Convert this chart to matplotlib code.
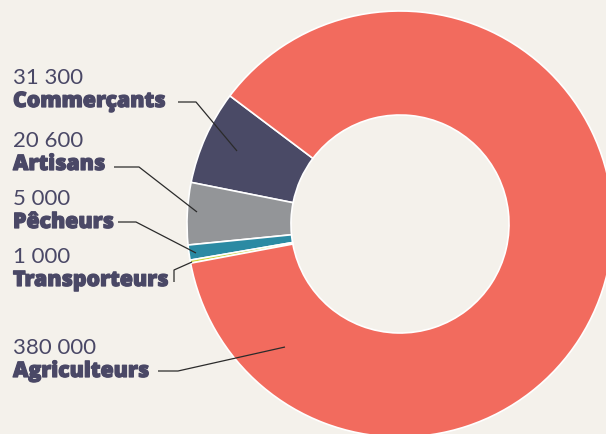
import matplotlib.pyplot as plt
import matplotlib.patheffects as pe

# Données
categories = ['Commerçants', 'Artisans', 'Pêcheurs', 'Transporteurs', 'Agriculteurs']
valeurs = [31300, 20600, 5000, 1000, 380000]
etiquettes_valeurs = ['31 300', '20 600', '5 000', '1 000', '380 000']
couleurs = ['#4a4a66', '#939598', '#2b8aa3', '#c8d43c', '#f26b5e']

fond = '#f4f1eb'
texte = '#4a4866'

fig = plt.figure(figsize=(6.06, 4.35), dpi=100, facecolor=fond)
ax = fig.add_axes([0, 0, 1, 1])
ax.set_facecolor(fond)

# Donut (coordonnées en pixels, y vers le haut)
ax.pie(valeurs, colors=couleurs, startangle=143, counterclock=True,
       center=(400, 210), radius=213,
       wedgeprops=dict(width=104, edgecolor='white', linewidth=1.2))
ax.set_xlim(0, 606)
ax.set_ylim(0, 435)
ax.set_aspect('equal')
ax.axis('off')

H = 435
# position du texte (x, baseline du nombre) et ligne de rappel
pos_texte = [(13, 84), (13, 147), (13, 205), (13, 263), (13, 354)]
rappels = [
    [(178, 103), (196, 103), (237, 152)],
    [(114, 168), (139, 168), (197, 213)],
    [(118, 223), (136, 223), (196, 254)],
    [(174, 283), (174, 271), (192, 263)],
    [(158, 372), (178, 372), (285, 348)],
]

gras = [pe.withStroke(linewidth=0.9, foreground=texte)]
for cat, lab, (x, y), pts in zip(categories, etiquettes_valeurs, pos_texte, rappels):
    ax.text(x, H - y, lab, fontsize=16, family='Lato', color=texte,
            va='baseline', ha='left')
    ax.text(x, H - y - 24, cat, fontsize=15.3, family='Open Sans', weight=800,
            color=texte, va='baseline', ha='left', path_effects=gras)
    xs = [p[0] for p in pts]
    ys = [H - p[1] for p in pts]
    ax.plot(xs, ys, color='#2b2b2b', lw=0.9, solid_capstyle='butt')

fig.savefig('out.png', dpi=100, facecolor=fond)
